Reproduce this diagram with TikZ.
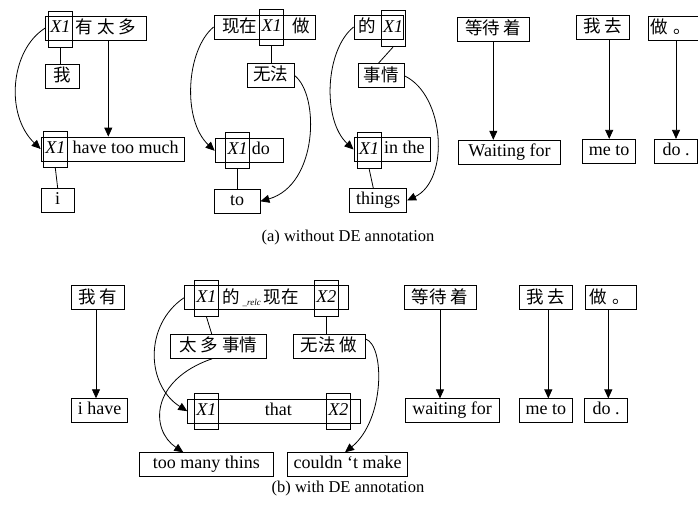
\documentclass[tikz,border=0pt]{standalone}
\usepackage{fontspec}
\setmainfont{Liberation Serif}
\newfontfamily\cjk{Noto Sans CJK SC}
\usetikzlibrary{arrows.meta}
\newcommand\zhtxt[1]{{\cjk\fontsize{17.5}{19}\selectfont\raisebox{-1.5pt}{#1}}}
\begin{document}
\begin{tikzpicture}[x=1pt,y=-1pt,
  box/.style={draw, line width=0.8pt, minimum height=24pt, inner sep=0pt,
    text height=12pt, text depth=4pt, font=\fontsize{18}{20}\selectfont},
  ovl/.style={draw, line width=0.8pt, minimum width=24pt, minimum height=36pt,
    inner sep=0pt, text height=12pt, text depth=4pt,
    font=\fontsize{18}{20}\selectfont\itshape},
  txt/.style={inner sep=0pt, text height=12pt, text depth=4pt,
    font=\fontsize{18}{20}\selectfont},
  capt/.style={inner sep=0pt, font=\fontsize{16.5}{18}\selectfont},
  ln/.style={line width=0.8pt},
  arr/.style={line width=0.8pt, -{Triangle[length=9pt,width=8pt]}}]
\useasboundingbox (0,0) rectangle (698,511);

% ---------- panel (a) ----------
\node[box, minimum width=101pt] (a1t) at (96.2,28) {};
\node[ovl] (a1tx) at (60.3,29) {X1};
\node[txt, anchor=west] (a1tt) at (75.5,28) {\zhtxt{有 太 多}};
\node[box, minimum width=33.6pt] (a1w) at (62.5,76) {\zhtxt{我}};
\node[box, minimum width=143.3pt] (a1b) at (112.7,149) {};
\node[ovl] (a1bx) at (55.3,149.5) {X1};
\node[txt, anchor=west] (a1bt) at (72.5,149) {have too much};
\node[box, minimum width=33.3pt] (a1i) at (57.7,200.5) {i};
\draw[ln] (a1tx.south) -- (a1tx.south |- a1w.north);
\draw[ln] (a1bx.south) -- (a1i.north);
\draw[arr] (108.3,0 |- a1t.south) -- (108.3,0 |- a1b.north);
\draw[arr] (a1t.west) .. controls (10,50) and (5,115) .. (a1b.west);

\node[box, minimum width=101pt] (a2t) at (264.5,27) {};
\node[ovl] (a2tx) at (271.7,27.2) {X1};
\node[txt] (a2tt1) at (239.7,27) {\zhtxt{现在}};
\node[txt] (a2tt2) at (301,27) {\zhtxt{做}};
\node[box, minimum width=46.3pt] (a2w) at (270.8,75.3) {\zhtxt{无法}};
\node[box, minimum width=68.3pt] (a2b) at (249.2,150.8) {};
\node[ovl] (a2bx) at (237.5,150.5) {X1};
\node[txt] (a2bt) at (260.8,150.8) {do};
\node[box, minimum width=46pt] (a2to) at (237,201.3) {to};
\draw[ln] (a2tx.south) -- (a2tx.south |- a2w.north);
\draw[ln] (a2bx.south) -- (a2bx.south |- a2to.north);
\draw[arr] (a2t.west) .. controls (186,50) and (182,120) .. (a2b.west);
\draw[arr] (a2w.east) .. controls (320,95) and (318,185) .. (a2to.east);

\node[box, minimum width=49pt] (a3t) at (378.5,27) {};
\node[ovl] (a3tx) at (393,28.7) {X1};
\node[txt] (a3tt) at (367.7,27) {\zhtxt{的}};
\node[box, minimum width=46pt] (a3w) at (381,75.8) {\zhtxt{事情}};
\node[box, minimum width=76.7pt] (a3b) at (392.3,149.5) {};
\node[ovl] (a3bx) at (369.2,150.8) {X1};
\node[txt, anchor=west] (a3bt) at (384,149.5) {in the};
\node[box, minimum width=57.4pt] (a3th) at (378,200.5) {things};
\draw[ln] (a3tx.south) -- ([xshift=-2.7pt]a3w.north);
\draw[ln] (a3bx.south) -- ([xshift=-4.7pt]a3th.north);
\draw[arr] (a3t.west) .. controls (325,50) and (322,120) .. (a3b.west);
\draw[arr] (a3w.east) .. controls (445,95) and (450,180) .. (a3th.east);

\node[box, minimum width=72pt] (a4t) at (493.3,29.2) {\zhtxt{等待 着}};
\node[box, minimum width=102.4pt] (a4b) at (509.5,152.2) {Waiting for};
\draw[arr] (a4t.south) -- (a4t.south |- a4b.north);
\node[box, minimum width=53pt] (a5t) at (602.5,27.5) {\zhtxt{我 去}};
\node[box, minimum width=53pt] (a5b) at (609.2,151.3) {me to};
\draw[arr] (a5b.north |- a5t.south) -- (a5b.north);
\node[box, text width=55.4pt, align=left] (a6t) at (676,28.3) {\hspace{2pt}\zhtxt{做 。}};
\node[box, minimum width=43.4pt] (a6b) at (676,151.3) {do .};
\draw[arr] (a6b.north |- a6t.south) -- (a6b.north);

\node[capt] (capa) at (348,238) {(a) without DE annotation};

% ---------- panel (b) ----------
\node[box, minimum width=53.3pt] (b1t) at (97.7,297.5) {\zhtxt{我 有}};
\node[box, minimum width=56pt] (b1b) at (99.7,410.7) {i have};
\draw[arr] (96,0 |- b1t.south) -- (96,0 |- b1b.north);

\node[box, minimum width=164pt] (b2t) at (266.3,297.8) {};
\node[ovl] (b2tx1) at (206.3,298) {X1};
\node[ovl] (b2tx2) at (326.3,298) {X2};
\node[txt, anchor=west] (b2tt) at (222,297.8) {\zhtxt{的}\,\raisebox{-4pt}{\fontsize{9}{9}\selectfont\itshape \_relc}\,\zhtxt{现在}};
\node[box, minimum width=96.7pt] (b2w1) at (218.3,346.3) {\zhtxt{太 多 事情}};
\node[box, minimum width=71.7pt] (b2w2) at (329.2,346.3) {\zhtxt{无法 做}};
\node[box, minimum width=172.3pt] (b2b) at (273.8,411.2) {};
\node[ovl] (b2bx1) at (206.3,411.7) {X1};
\node[ovl] (b2bx2) at (338.3,411.7) {X2};
\node[txt] (b2bt) at (278.3,411.2) {that};
\node[box, minimum width=134pt] (b2c1) at (206.3,464.7) {too many thins};
\node[box, minimum width=120.4pt] (b2c2) at (347.5,464.7) {couldn ‘t make};
\draw[ln] (b2tx1.south) -- ([xshift=-6.6pt]b2w1.north);
\draw[ln] (b2tx2.south) -- (b2tx2.south |- b2w2.north);
\draw[arr] (b2t.west) .. controls (144,325) and (146,385) .. (b2b.west);
\draw[arr] ([xshift=-6pt]b2w1.south) .. controls (150,380) and (150,430) .. ([xshift=-23pt]b2c1.north);
\draw[arr] ([yshift=-5pt]b2w2.north east) .. controls (385,345) and (385,420) .. ([xshift=-2.5pt]b2c2.north);

\node[box, minimum width=72pt] (b3t) at (440,297.5) {\zhtxt{等待 着}};
\node[box, minimum width=94.3pt] (b3b) at (452.2,410.8) {waiting for};
\draw[arr] (b3t.south) -- (b3t.south |- b3b.north);
\node[box, minimum width=53pt] (b4t) at (545.8,297.5) {\zhtxt{我 去}};
\node[box, minimum width=53pt] (b4b) at (545.8,410.8) {me to};
\draw[arr] (548.3,0 |- b4t.south) -- (548.3,0 |- b4b.north);
\node[box, text width=50.7pt, align=left] (b5t) at (610.7,297.5) {\hspace{4pt}\zhtxt{做 。}};
\node[box, minimum width=43.4pt] (b5b) at (606,410.8) {do .};
\draw[arr] (608.3,0 |- b5t.south) -- (608.3,0 |- b5b.north);

\node[capt] (capb) at (348,489) {(b) with DE annotation};
\end{tikzpicture}
\end{document}
